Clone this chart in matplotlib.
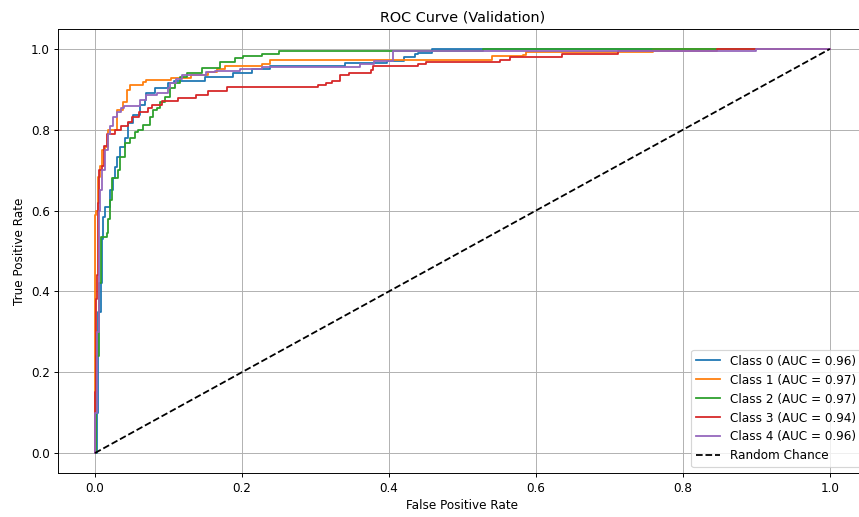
import matplotlib
matplotlib.use("Agg")
import matplotlib.pyplot as plt

# ROC corner points (fpr where each tpr level starts)
fpr_class0 = [0.0, 0.003, 0.0045, 0.008, 0.010, 0.011, 0.0136, 0.020, 0.025, 0.027, 0.030, 0.034,
              0.041, 0.045, 0.052, 0.061, 0.068, 0.070, 0.082, 0.100, 0.107, 0.150, 0.188, 0.213,
              0.238, 0.340, 0.397, 0.420, 0.435, 0.440, 0.458, 1.0]
tpr_class0 = [0.0, 0.10, 0.35, 0.42, 0.53, 0.585, 0.61, 0.65, 0.68, 0.709, 0.733, 0.758,
              0.78, 0.816, 0.837, 0.861, 0.874, 0.89, 0.903, 0.915, 0.922, 0.930, 0.940, 0.950,
              0.958, 0.965, 0.971, 0.981, 0.988, 0.990, 1.0, 1.0]

fpr_class1 = [0.0, 0.0, 0.001, 0.0045, 0.007, 0.010, 0.0136, 0.018, 0.0295, 0.0385, 0.043, 0.048,
              0.066, 0.070, 0.104, 0.130, 0.154, 0.166, 0.177, 0.227, 0.238, 0.540, 0.583, 0.587,
              0.759, 1.0]
tpr_class1 = [0.0, 0.59, 0.60, 0.684, 0.71, 0.75, 0.758, 0.80, 0.849, 0.87, 0.898, 0.911,
              0.919, 0.923, 0.929, 0.935, 0.942, 0.950, 0.958, 0.964, 0.973, 0.982, 0.985, 0.993,
              1.0, 1.0]

fpr_class2 = [0.0, 0.002, 0.005, 0.008, 0.016, 0.018, 0.020, 0.023, 0.032, 0.034, 0.041, 0.048,
              0.054, 0.058, 0.066, 0.075, 0.079, 0.084, 0.088, 0.095, 0.102, 0.109, 0.116, 0.125,
              0.145, 0.170, 0.190, 0.202, 0.227, 0.251, 0.528, 1.0]
tpr_class2 = [0.0, 0.24, 0.42, 0.535, 0.545, 0.58, 0.626, 0.68, 0.70, 0.733, 0.767, 0.78,
              0.795, 0.80, 0.812, 0.832, 0.849, 0.855, 0.87, 0.882, 0.903, 0.915, 0.931, 0.94,
              0.954, 0.969, 0.977, 0.983, 0.988, 0.995, 1.0, 1.0]

fpr_class3 = [0.0, 0.0, 0.0015, 0.003, 0.004, 0.006, 0.0095, 0.012, 0.017, 0.027, 0.035, 0.045,
              0.050, 0.060, 0.0725, 0.077, 0.091, 0.113, 0.138, 0.154, 0.179, 0.304, 0.315, 0.322,
              0.334, 0.345, 0.376, 0.379, 0.440, 0.451, 0.551, 0.565, 0.635, 0.712, 0.847, 1.0]
tpr_class3 = [0.0, 0.15, 0.38, 0.44, 0.62, 0.70, 0.71, 0.76, 0.79, 0.80, 0.81, 0.82,
              0.832, 0.845, 0.853, 0.861, 0.872, 0.878, 0.886, 0.897, 0.905, 0.911, 0.917, 0.922,
              0.936, 0.941, 0.948, 0.957, 0.963, 0.969, 0.974, 0.981, 0.988, 0.996, 1.0, 1.0]

fpr_class4 = [0.0, 0.0, 0.003, 0.005, 0.0068, 0.010, 0.0136, 0.018, 0.020, 0.025, 0.030, 0.036,
              0.040, 0.061, 0.070, 0.084, 0.100, 0.102, 0.110, 0.118, 0.151, 0.163, 0.197, 0.227,
              0.360, 0.380, 0.406, 0.900, 1.0]
tpr_class4 = [0.0, 0.10, 0.30, 0.60, 0.65, 0.70, 0.75, 0.79, 0.81, 0.832, 0.845, 0.853,
              0.858, 0.874, 0.886, 0.89, 0.903, 0.915, 0.925, 0.936, 0.942, 0.946, 0.950, 0.956,
              0.963, 0.970, 0.995, 1.0, 1.0]

class_names = ["Class 0", "Class 1", "Class 2", "Class 3", "Class 4"]
auc_scores = [0.96, 0.97, 0.97, 0.94, 0.96]

fprs = [fpr_class0, fpr_class1, fpr_class2, fpr_class3, fpr_class4]
tprs = [tpr_class0, tpr_class1, tpr_class2, tpr_class3, tpr_class4]

fig = plt.figure(figsize=(859 / 86, 517 / 86), dpi=86)
# axes runs slightly past the right edge, as in the cropped reference
ax = fig.add_axes([0.0678, 0.0847, 0.941, 0.8596])

for name, auc, fpr, tpr in zip(class_names, auc_scores, fprs, tprs):
    ax.plot(fpr, tpr, drawstyle="steps-post", label=f"{name} (AUC = {auc:.2f})")

ax.plot([0, 1], [0, 1], "k--", label="Random Chance")
ax.set_xlim(-0.05, 1.05)
ax.set_ylim(-0.05, 1.05)
ax.set_title("ROC Curve (Validation)")
ax.set_xlabel("False Positive Rate")
ax.set_ylabel("True Positive Rate")
ax.legend(loc="lower right")
ax.grid(True)

fig.savefig("out.png", dpi=86)
